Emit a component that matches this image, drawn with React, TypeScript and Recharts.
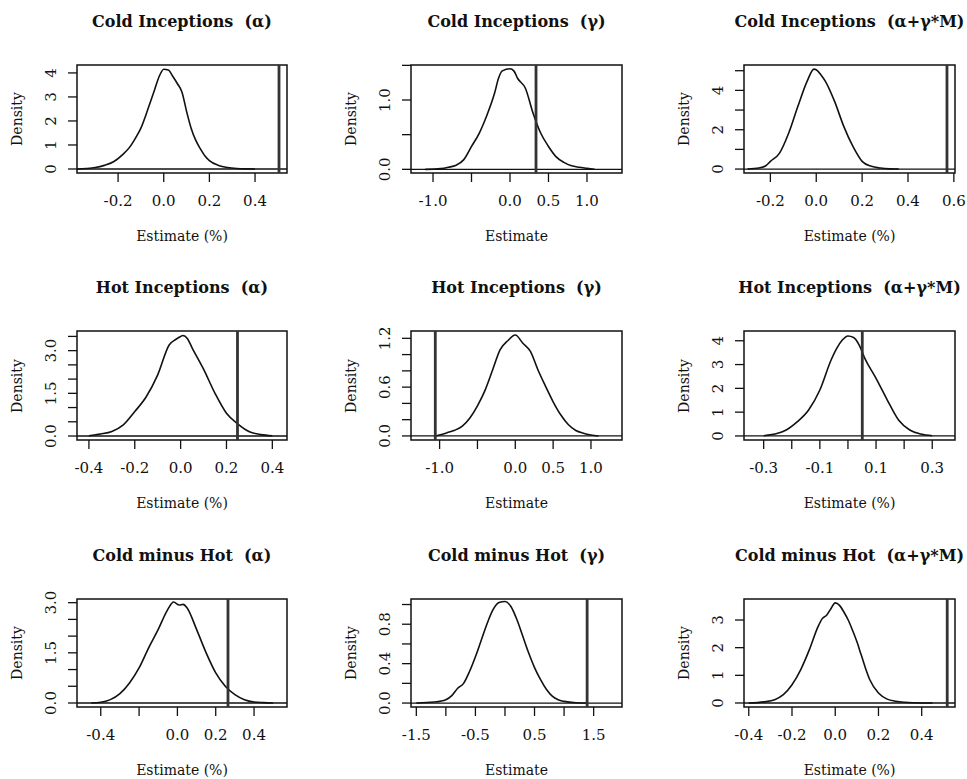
import { LineChart, Line, XAxis, YAxis, ReferenceLine, ReferenceArea } from "recharts";

// density estimates (x = estimate, d = density)
const coldAlphaX = [-0.38, -0.34, -0.3, -0.26, -0.22, -0.18, -0.15, -0.12, -0.1, -0.08, -0.06, -0.04, -0.02, 0, 0.02, 0.04, 0.06, 0.08, 0.1, 0.12, 0.14, 0.16, 0.18, 0.2, 0.24, 0.28, 0.32, 0.36, 0.4];
const coldAlphaD = [0, 0.02, 0.06, 0.15, 0.3, 0.6, 0.9, 1.35, 1.7, 2.2, 2.75, 3.3, 3.85, 4.15, 4.12, 3.85, 3.55, 3.2, 2.4, 1.7, 1.2, 0.85, 0.55, 0.35, 0.15, 0.06, 0.02, 0.005, 0];

const coldGammaX = [-1.1, -0.9, -0.8, -0.7, -0.6, -0.5, -0.4, -0.3, -0.2, -0.15, -0.1, 0, 0.05, 0.1, 0.2, 0.3, 0.4, 0.5, 0.6, 0.7, 0.8, 0.9, 1.0, 1.1];
const coldGammaD = [0, 0.01, 0.03, 0.06, 0.14, 0.33, 0.52, 0.78, 1.1, 1.31, 1.42, 1.45, 1.42, 1.31, 1.17, 0.81, 0.52, 0.33, 0.18, 0.1, 0.05, 0.03, 0.015, 0];

const coldTotalX = [-0.3, -0.25, -0.22, -0.2, -0.16, -0.12, -0.08, -0.04, -0.01, 0, 0.02, 0.04, 0.08, 0.12, 0.16, 0.2, 0.24, 0.28, 0.32, 0.36];
const coldTotalD = [0, 0.05, 0.17, 0.39, 0.81, 1.83, 3.19, 4.46, 5.08, 5.05, 4.8, 4.46, 3.44, 2.17, 1.15, 0.39, 0.14, 0.05, 0.01, 0];

const hotAlphaX = [-0.4, -0.35, -0.3, -0.25, -0.2, -0.15, -0.1, -0.05, -0.02, 0, 0.01, 0.03, 0.05, 0.1, 0.15, 0.2, 0.25, 0.3, 0.35, 0.4];
const hotAlphaD = [0.01, 0.07, 0.16, 0.39, 0.86, 1.38, 2.15, 3.2, 3.4, 3.5, 3.53, 3.42, 3.1, 2.35, 1.5, 0.8, 0.42, 0.15, 0.05, 0.01];

const hotGammaX = [-1.05, -0.9, -0.8, -0.7, -0.6, -0.5, -0.4, -0.3, -0.2, -0.1, 0, 0.1, 0.2, 0.3, 0.4, 0.5, 0.6, 0.7, 0.8, 0.9, 1.0, 1.1];
const hotGammaD = [0, 0.04, 0.07, 0.12, 0.22, 0.37, 0.56, 0.81, 1.06, 1.17, 1.24, 1.14, 1.04, 0.81, 0.61, 0.42, 0.26, 0.14, 0.066, 0.033, 0.012, 0];

const hotTotalX = [-0.3, -0.25, -0.22, -0.18, -0.14, -0.1, -0.06, -0.04, -0.02, 0, 0.02, 0.04, 0.06, 0.1, 0.14, 0.18, 0.22, 0.26, 0.3];
const hotTotalD = [0.01, 0.11, 0.25, 0.6, 1.09, 1.93, 3.19, 3.68, 4.03, 4.2, 4.14, 3.82, 3.26, 2.42, 1.51, 0.67, 0.25, 0.08, 0.01];

const cmhAlphaX = [-0.45, -0.4, -0.35, -0.3, -0.25, -0.2, -0.15, -0.1, -0.05, -0.02, 0.01, 0.03, 0.05, 0.1, 0.15, 0.2, 0.25, 0.3, 0.35, 0.4, 0.45, 0.5];
const cmhAlphaD = [0, 0.02, 0.1, 0.28, 0.6, 1.05, 1.65, 2.2, 2.8, 3.02, 2.93, 2.95, 2.85, 2.2, 1.5, 0.9, 0.5, 0.25, 0.1, 0.03, 0.01, 0];

const cmhGammaX = [-1.5, -1.2, -1.0, -0.9, -0.8, -0.7, -0.6, -0.5, -0.4, -0.3, -0.2, -0.1, 0, 0.1, 0.2, 0.3, 0.4, 0.5, 0.6, 0.7, 0.8, 0.9, 1.0, 1.2, 1.4];
const cmhGammaD = [0, 0.01, 0.034, 0.075, 0.15, 0.2, 0.32, 0.47, 0.64, 0.81, 0.95, 1.02, 1.03, 0.98, 0.85, 0.68, 0.51, 0.36, 0.24, 0.14, 0.07, 0.034, 0.017, 0.003, 0];

const cmhTotalX = [-0.4, -0.33, -0.28, -0.24, -0.2, -0.16, -0.12, -0.08, -0.06, -0.04, -0.02, 0, 0.02, 0.04, 0.06, 0.08, 0.1, 0.12, 0.14, 0.16, 0.2, 0.24, 0.28, 0.32, 0.36, 0.45];
const cmhTotalD = [0, 0.04, 0.12, 0.3, 0.66, 1.2, 1.92, 2.75, 3.05, 3.17, 3.41, 3.62, 3.53, 3.29, 3.0, 2.63, 2.22, 1.74, 1.26, 0.84, 0.36, 0.14, 0.06, 0.025, 0.01, 0];

// observed estimate marked by the vertical line
const observed = [0.505, 0.338, 0.57, 0.248, -1.057, 0.051, 0.264, 1.39, 0.518];

const titles = [
  "Cold Inceptions  (α)", "Cold Inceptions  (γ)", "Cold Inceptions  (α+γ*M)",
  "Hot Inceptions  (α)", "Hot Inceptions  (γ)", "Hot Inceptions  (α+γ*M)",
  "Cold minus Hot  (α)", "Cold minus Hot  (γ)", "Cold minus Hot  (α+γ*M)",
];

// axis ticks, and which of them carry a label
const xTicks = [
  [-0.2, 0, 0.2, 0.4], [-1, -0.5, 0, 0.5, 1], [-0.2, 0, 0.2, 0.4, 0.6],
  [-0.4, -0.2, 0, 0.2, 0.4], [-1, -0.5, 0, 0.5, 1], [-0.3, -0.2, -0.1, 0, 0.1, 0.2, 0.3],
  [-0.4, -0.2, 0, 0.2, 0.4], [-1.5, -1, -0.5, 0, 0.5, 1, 1.5], [-0.4, -0.2, 0, 0.2, 0.4],
];
const xLabelled = [
  [-0.2, 0, 0.2, 0.4], [-1, 0, 0.5, 1], [-0.2, 0, 0.2, 0.4, 0.6],
  [-0.4, -0.2, 0, 0.2, 0.4], [-1, 0, 0.5, 1], [-0.3, -0.1, 0.1, 0.3],
  [-0.4, 0, 0.2, 0.4], [-1.5, -0.5, 0.5, 1.5], [-0.4, -0.2, 0, 0.2, 0.4],
];
const yTicks = [
  [0, 1, 2, 3, 4], [0, 0.5, 1, 1.5], [0, 1, 2, 3, 4, 5],
  [0, 0.5, 1, 1.5, 2, 2.5, 3, 3.5], [0, 0.2, 0.4, 0.6, 0.8, 1, 1.2], [0, 1, 2, 3, 4],
  [0, 0.5, 1, 1.5, 2, 2.5, 3], [0, 0.2, 0.4, 0.6, 0.8, 1], [0, 1, 2, 3],
];
const yLabelled = [
  [0, 1, 2, 3, 4], [0, 1], [0, 2, 4],
  [0, 1.5, 3], [0, 0.6, 1.2], [0, 1, 2, 3, 4],
  [0, 1.5, 3], [0, 0.4, 0.8], [0, 1, 2, 3],
];
const yDecimals = [0, 1, 0, 1, 1, 0, 1, 1, 0];

const xDomains = [
  [-0.38, 0.54], [-1.286, 1.455], [-0.315, 0.605],
  [-0.452, 0.464], [-1.378, 1.41], [-0.37, 0.381],
  [-0.524, 0.572], [-1.59, 1.98], [-0.422, 0.554],
];
const yDomains = [
  [-0.167, 4.33], [-0.053, 1.505], [-0.2, 5.29],
  [-0.14, 3.69], [-0.05, 1.29], [-0.17, 4.41],
  [-0.12, 3.11], [-0.04, 1.056], [-0.145, 3.76],
];

const xs = [coldAlphaX, coldGammaX, coldTotalX, hotAlphaX, hotGammaX, hotTotalX, cmhAlphaX, cmhGammaX, cmhTotalX];
const ds = [coldAlphaD, coldGammaD, coldTotalD, hotAlphaD, hotGammaD, hotTotalD, cmhAlphaD, cmhGammaD, cmhTotalD];

const colBox = [[77, 210], [411, 211], [744, 211]];
const rowBox = [[65, 108], [331, 109], [599, 108]];

const FONT = "'DejaVu Serif', serif";
const has = (arr: number[], v: number) => arr.some((a) => Math.abs(a - v) < 1e-9);

function YTick({ x, y, payload, shown, dec }: any) {
  if (!has(shown, payload.value)) return null;
  return (
    <text x={x} y={y} transform={`rotate(-90 ${x} ${y})`} textAnchor="middle" fontSize={15} fontFamily={FONT} fill="#111">
      {payload.value.toFixed(dec)}
    </text>
  );
}

function Panel({ i }: { i: number }) {
  const [bx, bw] = colBox[i % 3];
  const [by, bh] = rowBox[Math.floor(i / 3)];
  const data = xs[i].map((x, k) => ({ x, d: ds[i][k] }));
  const [x0, x1] = xDomains[i];
  const [y0, y1] = yDomains[i];
  const w = 77 + bw + 20;
  const h = 65 + bh + 87;
  const isGamma = i % 3 === 1;

  return (
    <>
      <div style={{ position: "absolute", left: bx - 77, top: by - 65, width: w, height: h }}>
        <LineChart width={w} height={h} data={data} margin={{ top: 65, right: 20, bottom: 0, left: 0 }}>
          <XAxis
            type="number"
            dataKey="x"
            domain={[x0, x1]}
            ticks={xTicks[i]}
            interval={0}
            allowDataOverflow
            axisLine={false}
            tickSize={9}
            tickMargin={13}
            height={87}
            tickLine={{ stroke: "#111", strokeWidth: 1.3 }}
            tick={{ fontSize: 15, fontFamily: FONT, fill: "#111" }}
            tickFormatter={(v: number) => (has(xLabelled[i], v) ? v.toFixed(1) : "")}
          />
          <YAxis
            type="number"
            domain={[y0, y1]}
            ticks={yTicks[i]}
            interval={0}
            allowDataOverflow
            axisLine={false}
            width={77}
            tickSize={9}
            tickMargin={12}
            tickLine={{ stroke: "#111", strokeWidth: 1.3 }}
            tick={<YTick shown={yLabelled[i]} dec={yDecimals[i]} />}
          />
          <ReferenceArea x1={x0} x2={x1} y1={y0} y2={y1} fill="none" stroke="#111" strokeWidth={1.5} fillOpacity={0} />
          <ReferenceLine y={0} stroke="#111" strokeWidth={1.3} />
          <Line type="monotone" dataKey="d" stroke="#111" strokeWidth={1.6} dot={false} isAnimationActive={false} />
          <ReferenceLine x={observed[i]} stroke="#333" strokeWidth={2.8} />
        </LineChart>
      </div>
      <div
        style={{
          position: "absolute", left: bx + bw / 2 - 200, top: by - 53, width: 400, lineHeight: "20px",
          textAlign: "center", fontFamily: FONT, fontWeight: "bold", fontSize: 16, color: "#111", whiteSpace: "pre",
        }}
      >
        {titles[i]}
      </div>
      <div
        style={{
          position: "absolute", left: bx - 60 - 50, top: by + bh / 2 - 10, width: 100, lineHeight: "20px",
          textAlign: "center", fontFamily: FONT, fontSize: 14, color: "#111", transform: "rotate(-90deg)",
        }}
      >
        Density
      </div>
      <div
        style={{
          position: "absolute", left: bx + bw / 2 - 100, top: by + bh + 63 - 10, width: 200, lineHeight: "20px",
          textAlign: "center", fontFamily: FONT, fontSize: 14, color: "#111",
        }}
      >
        {isGamma ? "Estimate" : "Estimate (%)"}
      </div>
    </>
  );
}

export default function App() {
  return (
    <div style={{ position: "absolute", left: 0, top: 0, width: 967, height: 779, background: "#fff" }}>
      {titles.map((_, i) => (
        <Panel key={i} i={i} />
      ))}
    </div>
  );
}
